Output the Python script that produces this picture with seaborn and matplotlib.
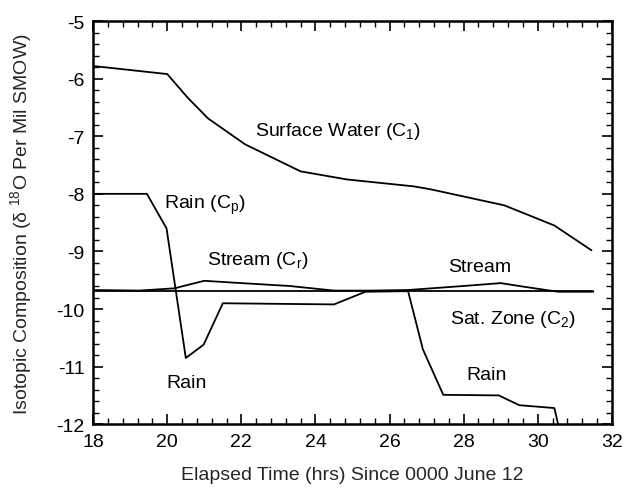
"""
Isotopic composition of rain, stream, surface water and saturated zone
over an event (delta 18O, per mil SMOW).
"""
import numpy as np
import pandas as pd
import matplotlib
matplotlib.use("Agg")
import matplotlib.pyplot as plt
from matplotlib.ticker import MultipleLocator
import seaborn as sns

# ---------------------------------------------------------------------------
# Data
# ---------------------------------------------------------------------------
surface_hrs = [18.0, 20.0, 20.55, 21.1, 22.1, 23.6, 24.85, 26.65, 27.1, 29.1, 30.45, 31.45]
surface_o18 = [-5.78, -5.92, -6.33, -6.69, -7.14, -7.61, -7.75, -7.87, -7.92, -8.20, -8.55, -8.98]

rain_hrs = [18.0, 19.45, 19.98, 20.5, 20.98, 21.5, 24.5, 25.35, 26.5, 26.9,
            27.45, 28.95, 29.5, 30.45, 30.55]
rain_o18 = [-8.0, -8.0, -8.6, -10.85, -10.62, -9.9, -9.92, -9.7, -9.69, -10.7,
            -11.49, -11.5, -11.67, -11.72, -12.0]

stream_hrs = [18.0, 19.25, 20.2, 20.5, 21.0, 22.0, 23.3, 24.5, 25.45, 26.5,
              28.0, 29.0, 29.7, 30.55, 31.5]
stream_o18 = [-9.67, -9.68, -9.64, -9.59, -9.51, -9.55, -9.60, -9.68, -9.68, -9.67,
              -9.60, -9.55, -9.62, -9.70, -9.70]

satzone_hrs = [18.0, 31.5]
satzone_o18 = [-9.68, -9.68]

series_names = ["Surface Water", "Rain", "Stream", "Sat. Zone"]

# curve labels: (text, x, y)
curve_labels = [
    ("Surface Water (C$_1$)", 22.36, -6.90),
    ("Rain (C$_p$)", 19.9, -8.19),
    ("Stream (C$_r$)", 21.08, -9.14),
    ("Stream", 27.58, -9.26),
    ("Sat. Zone (C$_2$)", 27.62, -10.17),
    ("Rain", 19.97, -11.28),
    ("Rain", 28.07, -11.14),
]

# ---------------------------------------------------------------------------
# Build long table
# ---------------------------------------------------------------------------
frames = []
for name, hrs, vals in zip(series_names,
                           [surface_hrs, rain_hrs, stream_hrs, satzone_hrs],
                           [surface_o18, rain_o18, stream_o18, satzone_o18]):
    frames.append(pd.DataFrame({"hrs": hrs, "o18": vals, "series": name}))
df = pd.concat(frames, ignore_index=True)

# ---------------------------------------------------------------------------
# Plot
# ---------------------------------------------------------------------------
sns.set_style("ticks")
plt.rcParams["font.family"] = ["Liberation Sans", "DejaVu Sans"]
plt.rcParams["mathtext.fontset"] = "custom"
plt.rcParams["mathtext.rm"] = "Liberation Sans"
plt.rcParams["mathtext.it"] = "Liberation Sans"
plt.rcParams["mathtext.bf"] = "Liberation Sans:bold"
plt.rcParams["axes.unicode_minus"] = False

fig = plt.figure(figsize=(6.34, 5.02), dpi=100)
ax = fig.add_axes([0.147, 0.153, 0.818, 0.803])

sns.lineplot(data=df, x="hrs", y="o18", hue="series", units="series",
             estimator=None, sort=False, palette=["black"] * 4,
             linewidth=1.3, legend=False, ax=ax)

ax.set_xlim(18, 32)
ax.set_ylim(-12, -5)
ax.xaxis.set_major_locator(MultipleLocator(2))
ax.xaxis.set_minor_locator(MultipleLocator(0.4))
ax.yaxis.set_major_locator(MultipleLocator(1))
ax.yaxis.set_minor_locator(MultipleLocator(0.2))
ax.tick_params(which="both", direction="in", top=True, right=True,
               labelsize=14, colors="black")
ax.tick_params(which="major", length=7, width=1.2, pad=6)
ax.tick_params(which="minor", length=4, width=1.0)
for sp in ax.spines.values():
    sp.set_linewidth(1.8)
    sp.set_color("black")

ax.set_xlabel("Elapsed Time (hrs) Since 0000 June 12", fontsize=14, labelpad=12)
ax.set_ylabel(r"Isotopic Composition ($\delta$ $^{18}$O Per Mil SMOW)",
              fontsize=14, labelpad=16)

for txt, x, y in curve_labels:
    ax.text(x, y, txt, fontsize=14, ha="left", va="center", color="black")

fig.savefig("out.png", dpi=100)
